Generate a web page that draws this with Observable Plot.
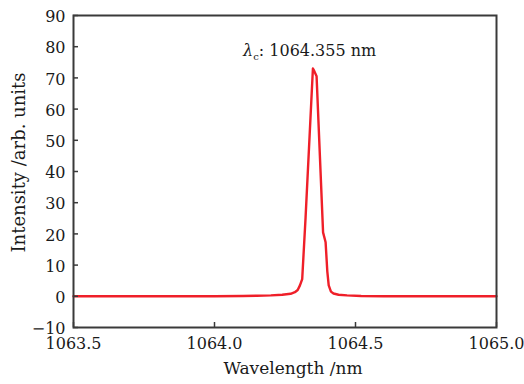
<!DOCTYPE html>
<html>
<head>
<meta charset="utf-8">
<script src="https://cdn.jsdelivr.net/npm/d3@7"></script>
<script src="https://cdn.jsdelivr.net/npm/@observablehq/plot@0.6"></script>
<style>
  html, body { margin: 0; padding: 0; background: #fff; }
  #chart svg { display: block; }
</style>
</head>
<body>
<div id="chart"></div>
<script>
// Data
const wavelength = [1063.50, 1063.70, 1063.90, 1064.00, 1064.10, 1064.15, 1064.20, 1064.24, 1064.27, 1064.285, 1064.295, 1064.303, 1064.311, 1064.323, 1064.349, 1064.352, 1064.362, 1064.385, 1064.394, 1064.400, 1064.405, 1064.413, 1064.422, 1064.44, 1064.47, 1064.52, 1064.60, 1064.80, 1065.00];
const intensity  = [0.0, 0.0, 0.0, 0.0, 0.1, 0.2, 0.3, 0.5, 0.8, 1.3, 2.0, 3.5, 5.5, 25.3, 73.0, 72.5, 70.5, 20.5, 17.3, 8.0, 3.5, 1.5, 0.9, 0.5, 0.3, 0.1, 0.0, 0.0, 0.0];
const xTicks = [1063.5, 1064.0, 1064.5, 1065.0];
const yTicks = [-10, 0, 10, 20, 30, 40, 50, 60, 70, 80, 90];
const xLabel = "Wavelength /nm";
const yLabel = "Intensity /arb. units";
const peakWavelength = 1064.355;
const peakIntensity = 73;
const peakText = "λc: 1064.355 nm";

const data = wavelength.map((w, i) => ({w, v: intensity[i]}));
const frameColor = "#3a3a3a";
const font = "DejaVu Serif";

const chart = Plot.plot({
  width: 524,
  height: 384,
  marginLeft: 73,
  marginRight: 28,
  marginTop: 15,
  marginBottom: 57,
  style: {fontFamily: font, fontSize: "16px", color: "#1a1a1a", background: "#fff"},
  x: {domain: [1063.5, 1065.0]},
  y: {domain: [-10, 90]},
  marks: [
    Plot.line(data, {x: "w", y: "v", stroke: "#ef1f29", strokeWidth: 2.4, curve: "linear"}),
    Plot.tickY(yTicks, {y: d => d, stroke: frameColor, strokeWidth: 1.5, insetRight: 423 - 5}),
    Plot.tickX(xTicks, {x: d => d, stroke: frameColor, strokeWidth: 1.5, insetTop: 312 - 5}),
    Plot.frame({stroke: frameColor, strokeWidth: 2}),
    Plot.axisY({ticks: yTicks, tickSize: 0, tickPadding: 8, label: null, fontSize: 16, fill: "#1a1a1a",
      tickFormat: d => d < 0 ? "\u2212" + (-d) : String(d), dy: 1.5}),
    Plot.axisX({ticks: xTicks, tickSize: 0, tickPadding: 10, label: null, fontSize: 16, fill: "#1a1a1a",
      tickFormat: d3.format(".1f")}),
    Plot.text([xLabel], {frameAnchor: "bottom", text: d => d, fontSize: 17, fill: "#1a1a1a",
      textAnchor: "middle", lineAnchor: "middle", dx: 8, dy: 41}),
    Plot.text([yLabel], {frameAnchor: "left", text: d => d, fontSize: 18, fill: "#1a1a1a",
      rotate: -90, textAnchor: "middle", lineAnchor: "middle", dx: -54, dy: -9}),
    Plot.text([peakText], {x: () => peakWavelength, y: () => peakIntensity, text: d => d,
      fontSize: 16, fill: "#1a1a1a", textAnchor: "middle", lineAnchor: "middle", dx: -5, dy: -18})
  ]
});

// Rich text for the annotation: italic lambda with subscript c
d3.select(chart).selectAll("text").each(function() {
  const t = this.textContent;
  if (t.startsWith("λc")) {
    const sel = d3.select(this);
    sel.text(null);
    sel.append("tspan").attr("font-style", "italic").text("λ");
    sel.append("tspan").attr("font-size", "10px").attr("dy", "4").text("c");
    sel.append("tspan").attr("dy", "-4").text(": 1064.355 nm");
  }
});

document.getElementById("chart").appendChild(chart);
</script>
</body>
</html>
